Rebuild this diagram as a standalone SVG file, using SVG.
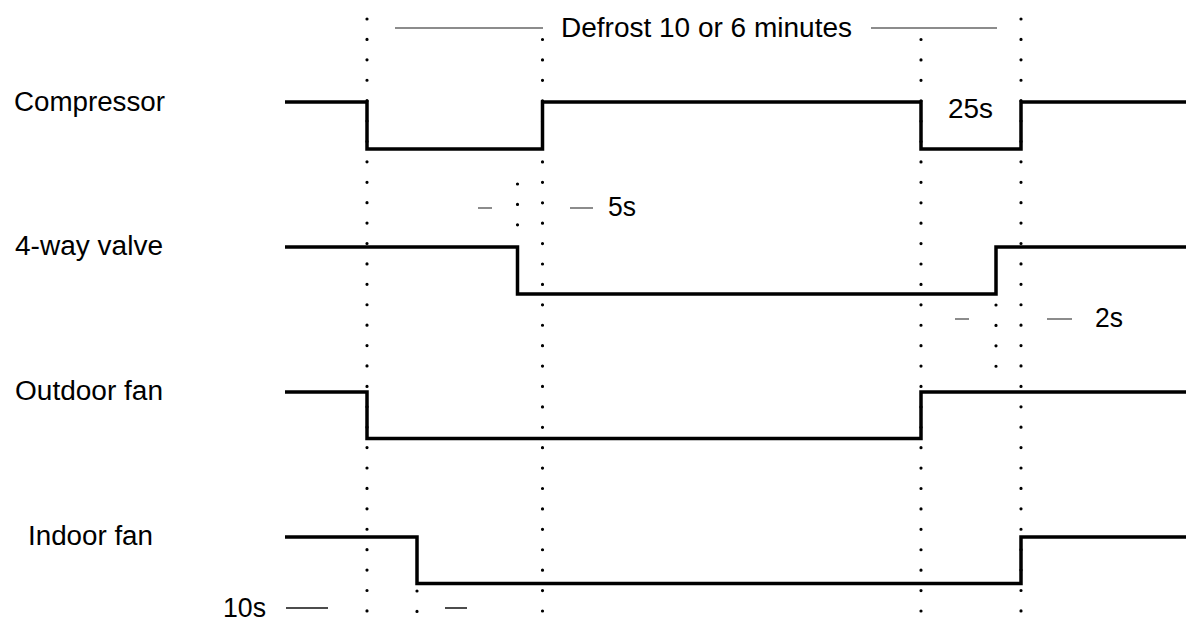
<svg xmlns="http://www.w3.org/2000/svg" width="1186" height="629" viewBox="0 0 1186 629">
<style>
.t{font-family:"Liberation Sans",Arial,sans-serif;font-size:27px;fill:#000}
.w{fill:none;stroke:#000;stroke-width:3.5;stroke-linejoin:miter;stroke-linecap:butt}
.d{fill:none;stroke:#000;stroke-width:3.2;stroke-linecap:round;stroke-dasharray:0 20.41}
.g{fill:none;stroke:#666;stroke-width:1.5}
.k{fill:none;stroke:#111;stroke-width:1.5}
</style>
<rect width="1186" height="629" fill="#fff"/>
<g id="dotted-guides">
<line class="d" x1="367" y1="19" x2="367" y2="612"/>
<line class="d" x1="542.5" y1="39.5" x2="542.5" y2="612"/>
<line class="d" x1="921" y1="39.5" x2="921" y2="612"/>
<line class="d" x1="1021" y1="19" x2="1021" y2="612"/>
<line class="d" x1="517.5" y1="184" x2="517.5" y2="226"/>
<line class="d" x1="996" y1="305" x2="996" y2="367"/>
<line class="d" x1="417" y1="591" x2="417" y2="612"/>
</g>
<g id="compressor">
<text class="t" x="14" y="111" textLength="151" lengthAdjust="spacingAndGlyphs">Compressor</text>
<polyline class="w" points="285,102 367,102 367,149 542.5,149 542.5,102 921,102 921,149 1021,149 1021,102 1186,102"/>
<text class="t" x="948" y="118" textLength="45" lengthAdjust="spacingAndGlyphs">25s</text>
</g>
<g id="four-way-valve">
<text class="t" x="15" y="255" textLength="148" lengthAdjust="spacingAndGlyphs">4-way valve</text>
<polyline class="w" points="285,247 517.5,247 517.5,294 996,294 996,247 1186,247"/>
</g>
<g id="outdoor-fan">
<text class="t" x="15" y="400" textLength="148" lengthAdjust="spacingAndGlyphs">Outdoor fan</text>
<polyline class="w" points="285,392 367,392 367,438.5 921,438.5 921,392 1186,392"/>
</g>
<g id="indoor-fan">
<text class="t" x="28" y="545" textLength="125" lengthAdjust="spacingAndGlyphs">Indoor fan</text>
<polyline class="w" points="285,537 417,537 417,583.5 1021,583.5 1021,537 1186,537"/>
</g>
<g id="connectors">
<line class="g" x1="395" y1="28" x2="543" y2="28"/>
<line class="g" x1="871" y1="28" x2="997" y2="28"/>
<line class="g" x1="478" y1="208" x2="492" y2="208"/>
<line class="g" x1="570" y1="208" x2="593" y2="208"/>
<line class="g" x1="955" y1="319" x2="969" y2="319"/>
<line class="g" x1="1047" y1="319" x2="1072" y2="319"/>
<line class="k" x1="286" y1="608" x2="328" y2="608"/>
<line class="k" x1="445" y1="608" x2="467" y2="608"/>
</g>
<g id="labels">
<text class="t" x="561" y="37" textLength="291" lengthAdjust="spacingAndGlyphs">Defrost 10 or 6 minutes</text>
<text class="t" x="608" y="216" textLength="28" lengthAdjust="spacingAndGlyphs">5s</text>
<text class="t" x="1095" y="327" textLength="28" lengthAdjust="spacingAndGlyphs">2s</text>
<text class="t" x="223" y="617" textLength="43" lengthAdjust="spacingAndGlyphs">10s</text>
</g>
</svg>
